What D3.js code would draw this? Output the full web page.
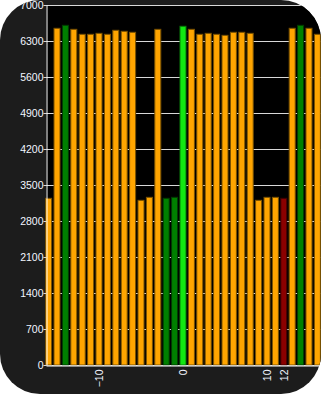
<!DOCTYPE html>
<html>
<head>
<meta charset="utf-8">
<script src="https://cdn.jsdelivr.net/npm/d3@7/dist/d3.min.js"></script>
<style>
  html, body { margin: 0; padding: 0; background: #ffffff; }
  svg { display: block; }
</style>
</head>
<body>
<div id="grafico"></div>
<script>
// categorias (posição no eixo x) e valores das barras
const categorias = [-16, -15, -14, -13, -12, -11, -10, -9, -8, -7, -6, -5, -4, -3, -2, -1,
                    0, 1, 2, 3, 4, 5, 6, 7, 8, 9, 10, 11, 12, 13, 14, 15, 16];
const valores = [3241, 6547, 6605, 6527, 6430, 6430, 6449, 6430, 6508, 6488, 6469, 3202, 3260, 6527, 3241, 3260,
                 6586, 6527, 6430, 6449, 6430, 6410, 6469, 6469, 6449, 3202, 3260, 3260, 3241, 6547, 6605, 6547, 6430];
// estado de cada barra (define a cor)
const estados = ['n', 'n', 'g', 'n', 'n', 'n', 'n', 'n', 'n', 'n', 'n', 'n', 'n', 'n', 'g', 'g',
                 'a', 'n', 'n', 'n', 'n', 'n', 'n', 'n', 'n', 'n', 'n', 'n', 'r', 'n', 'g', 'n', 'n'];
const ticksY = [0, 700, 1400, 2100, 2800, 3500, 4200, 4900, 5600, 6300, 7000];
const ticksX = [-10, 0, 10, 12];

const largura = 321, altura = 394;
const area = { esquerda: 46, topo: 5, direita: 321, baixo: 365 };

const corPreench = { n: '#ffa500', g: '#008000', a: '#12e812', r: '#8b0000' };
const corBorda = { n: '#7a5200', g: '#003d00', a: '#0a7a0a', r: '#3d0000' };

const svg = d3.select('#grafico').append('svg')
  .attr('width', largura)
  .attr('height', altura);

svg.append('clipPath').attr('id', 'moldura')
  .append('rect')
  .attr('x', 0).attr('y', 0)
  .attr('width', largura).attr('height', altura)
  .attr('rx', 40).attr('ry', 40);

const g = svg.append('g').attr('clip-path', 'url(#moldura)');

g.append('rect')
  .attr('width', largura).attr('height', altura)
  .attr('fill', '#1c1c1c');

g.append('rect')
  .attr('x', area.esquerda).attr('y', area.topo)
  .attr('width', area.direita - area.esquerda)
  .attr('height', area.baixo - area.topo)
  .attr('fill', '#000000');

const x = d3.scaleLinear()
  .domain([-16.31, 16.43])
  .range([area.esquerda, area.direita]);

const y = d3.scaleLinear()
  .domain([0, 7000])
  .range([area.baixo, area.topo]);

// grade horizontal
g.append('g')
  .selectAll('line')
  .data(ticksY)
  .enter()
  .append('line')
  .attr('x1', area.esquerda)
  .attr('x2', area.direita)
  .attr('y1', d => Math.round(y(d)) + 0.5)
  .attr('y2', d => Math.round(y(d)) + 0.5)
  .attr('stroke', '#d8d8d8')
  .attr('stroke-width', 1);

// barras
const larguraBarra = 6;
g.append('g')
  .selectAll('rect')
  .data(categorias)
  .enter()
  .append('rect')
  .attr('x', (d, i) => x(d) - larguraBarra / 2)
  .attr('y', (d, i) => y(valores[i]))
  .attr('width', larguraBarra)
  .attr('height', (d, i) => y(0) - y(valores[i]))
  .attr('fill', (d, i) => corPreench[estados[i]])
  .attr('stroke', (d, i) => corBorda[estados[i]])
  .attr('stroke-width', 1);

// eixo Y
const eixoY = g.append('g')
  .attr('transform', `translate(${area.esquerda + 0.5}, 0)`)
  .call(d3.axisLeft(y).tickValues(ticksY).tickFormat(d3.format('d')).tickSize(3).tickSizeOuter(0));
eixoY.select('.domain').attr('stroke', '#ffffff');
eixoY.selectAll('.tick line').attr('stroke', '#d8d8d8');
eixoY.selectAll('.tick text')
  .attr('fill', '#f2f6ff')
  .attr('x', -3)
  .style('font-family', '"Liberation Sans", Arial, sans-serif')
  .style('font-size', '10.5px');

// eixo X
const eixoX = g.append('g')
  .attr('transform', `translate(0, ${area.baixo + 0.5})`)
  .call(d3.axisBottom(x).tickValues(ticksX).tickFormat(d3.format('d')).tickSize(0).tickSizeOuter(0));
eixoX.select('.domain').attr('stroke', '#ffffff');
eixoX.selectAll('.tick text')
  .attr('fill', '#f2f6ff')
  .attr('transform', 'rotate(-90)')
  .attr('x', -4)
  .attr('y', 0)
  .attr('dy', '0.35em')
  .style('text-anchor', 'end')
  .style('font-family', '"Liberation Sans", Arial, sans-serif')
  .style('font-size', '10.5px');
</script>
</body>
</html>
